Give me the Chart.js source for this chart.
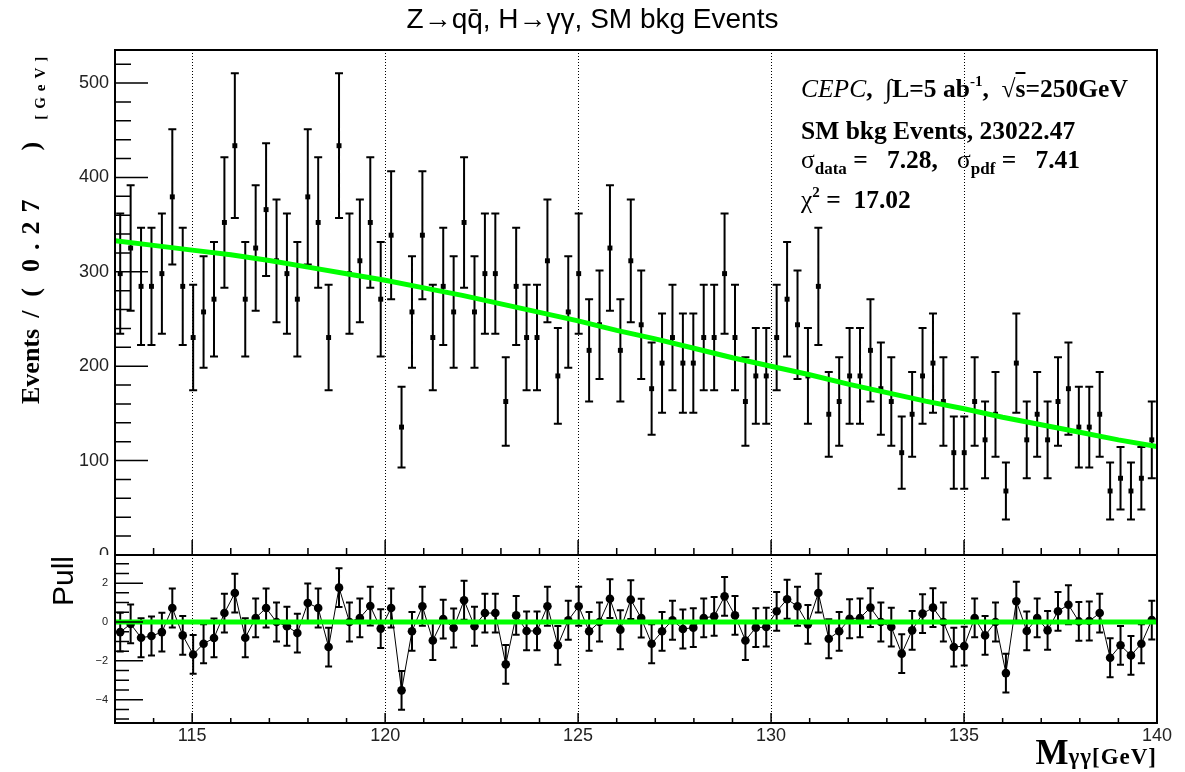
<!DOCTYPE html>
<html lang="en">
<head>
<meta charset="utf-8">
<title>Z→qq̄, H→γγ, SM bkg Events</title>
<script src="https://cdn.jsdelivr.net/npm/chart.js@4.4.1/dist/chart.umd.min.js"></script>
<style>
  html, body { margin: 0; padding: 0; background: #fff; }
  #wrap { position: relative; width: 1185px; height: 772px; overflow: hidden; background: #fff; }
  #wrap canvas { position: absolute; left: 0; }
  .lbl { position: absolute; white-space: pre; line-height: 1; color: #000; }
  .serif { font-family: "Liberation Serif", "Times New Roman", serif; font-weight: bold; }
  .sub { font-size: 17px; position: relative; top: 6px; }
  .sup { font-size: 15px; position: relative; top: -11px; }
  #title { left: 0; top: 5px; width: 1185px; text-align: center; font-family: "Liberation Sans", Arial, sans-serif; font-size: 28px; }
  #yTitle { left: 18px; top: 404px; text-align: left; font-size: 26px; transform-origin: 0 0; transform: rotate(-90deg); }
  #yTitle .num { letter-spacing: 9px; }
  #yTitle .unit { font-size: 15px; letter-spacing: 6px; position: relative; top: 6px; }
  #pullTitle { left: 48px; top: 641px; width: 120px; text-align: center; font-family: "Liberation Sans", Arial, sans-serif; font-size: 30px; transform-origin: 0 0; transform: rotate(-90deg); }
  #xTitle { right: 28px; top: 735px; font-size: 35px; }
  #xTitle .xs { font-size: 23px; letter-spacing: 1px; }
  .stat { left: 801px; font-size: 25.5px; }
</style>
</head>
<body>
<div id="wrap">
  <canvas id="mainChart" width="1185" height="555" style="top:0"></canvas>
  <canvas id="pullChart" width="1185" height="217" style="top:555px"></canvas>

  <div class="lbl" id="title">Z→qq̄, H→γγ, SM bkg Events</div>
  <div class="lbl serif" id="yTitle">Events<span style="margin-left:11px">/</span><span style="margin-left:14px">(</span><span class="num" style="margin-left:16px">0.27</span><span style="margin-left:40px">)</span><span class="unit" style="margin-left:22px">[GeV]</span></div>
  <div class="lbl" id="pullTitle">Pull</div>
  <div class="lbl serif" id="xTitle">M<span class="xs">γγ[GeV]</span></div>

  <div class="lbl serif stat" style="top:76px"><i style="font-weight:normal">CEPC</i>,  ∫L=5 ab<span class="sup">-1</span>,  √<span style="text-decoration:overline">s</span>=250GeV</div>
  <div class="lbl serif stat" style="top:118px">SM bkg Events, 23022.47</div>
  <div class="lbl serif stat" style="top:147px"><span style="font-weight:normal">σ</span><span class="sub">data</span> =   7.28,   <span style="font-weight:normal">σ</span><span class="sub">pdf</span> =   7.41</div>
  <div class="lbl serif stat" style="top:187px"><span style="font-weight:normal">χ</span><span class="sup">2</span> =  17.02</div>
</div>

<script>
// binning of the histogram
const xMin = 113;
const xMax = 140;
const binWidth = 0.27;

// weighted events per bin (100 bins)
const events = [
  298.1, 325.2, 284.6, 284.6, 298.1, 379.4, 284.6, 230.4, 257.5, 271.0,
  352.3, 433.6, 271.0, 325.2, 365.9, 311.7, 298.1, 271.0, 379.4, 352.3,
  230.4, 433.6, 298.1, 311.7, 352.3, 271.0, 338.8, 135.5, 257.5, 338.8,
  230.4, 284.6, 257.5, 352.3, 257.5, 298.1, 298.1, 162.6, 284.6, 230.4,
  230.4, 311.7, 189.7, 257.5, 298.1, 216.8, 243.9, 325.2, 216.8, 311.7,
  243.9, 176.2, 203.3, 230.4, 203.3, 203.3, 230.4, 230.4, 298.1, 230.4,
  162.6, 189.7, 189.7, 230.4, 271.0, 243.9, 189.7, 284.6, 149.1, 162.6,
  189.7, 189.7, 216.8, 176.2, 162.6, 108.4, 149.1, 189.7, 203.3, 162.6,
  108.4, 108.4, 162.6, 122.0, 149.1, 67.8, 203.3, 122.0, 149.1, 122.0,
  162.6, 176.2, 135.5, 135.5, 149.1, 67.8, 81.3, 67.8, 81.3, 122.0
];

// error bar half-lengths
const eventErrors = [
  63.6, 66.4, 62.1, 62.1, 63.6, 71.7, 62.1, 55.9, 59.1, 60.6,
  69.1, 76.7, 60.6, 66.4, 70.4, 65.0, 63.6, 60.6, 71.7, 69.1,
  55.9, 76.7, 63.6, 65.0, 69.1, 60.6, 67.8, 42.8, 59.1, 67.8,
  55.9, 62.1, 59.1, 69.1, 59.1, 63.6, 63.6, 46.9, 62.1, 55.9,
  55.9, 65.0, 50.7, 59.1, 63.6, 54.2, 57.5, 66.4, 54.2, 65.0,
  57.5, 48.9, 52.5, 55.9, 52.5, 52.5, 55.9, 55.9, 63.6, 55.9,
  46.9, 50.7, 50.7, 55.9, 60.6, 57.5, 50.7, 62.1, 44.9, 46.9,
  50.7, 50.7, 54.2, 48.9, 46.9, 38.3, 44.9, 50.7, 52.5, 46.9,
  38.3, 38.3, 46.9, 40.7, 44.9, 30.3, 52.5, 40.7, 44.9, 40.7,
  46.9, 48.9, 42.8, 42.8, 44.9, 30.3, 33.2, 30.3, 33.2, 40.7
];

// pull per bin
const pulls = [
  -0.52, -0.10, -0.81, -0.72, -0.52, 0.72, -0.69, -1.67, -1.12, -0.82,
  0.46, 1.49, -0.81, 0.21, 0.72, 0.00, -0.22, -0.57, 0.98, 0.72,
  -1.29, 1.77, 0.00, 0.21, 0.82, -0.34, 0.72, -3.52, -0.48, 0.81,
  -0.95, 0.15, -0.31, 1.12, -0.22, 0.46, 0.46, -2.18, 0.34, -0.46,
  -0.46, 0.81, -1.20, 0.09, 0.81, -0.48, 0.00, 1.20, -0.40, 1.15,
  0.20, -1.12, -0.48, 0.09, -0.36, -0.29, 0.21, 0.29, 1.32, 0.34,
  -0.95, -0.29, -0.26, 0.55, 1.17, 0.81, -0.12, 1.49, -0.86, -0.48,
  0.17, 0.21, 0.74, 0.00, -0.26, -1.63, -0.43, 0.43, 0.74, 0.00,
  -1.29, -1.24, 0.21, -0.69, 0.00, -2.63, 1.07, -0.46, 0.21, -0.43,
  0.55, 0.89, 0.03, 0.05, 0.46, -1.84, -1.20, -1.72, -1.12, 0.10
];

// background fit curve
const fitMass = [113, 114, 115, 116, 117, 118, 119, 120, 121, 122, 123, 124, 125, 126,
                 127, 128, 129, 130, 131, 132, 133, 134, 135, 136, 137, 138, 139, 140];
const fitEvents = [333, 328, 323, 318, 312, 305, 298, 291, 283, 275, 266, 257, 248, 238,
                   229, 219, 209, 200, 191, 181, 172, 163, 155, 146, 138, 130, 122, 115];

const gridMass = [115, 120, 125, 130, 135];

const binCenters = events.map((v, i) => +(xMin + binWidth * (i + 0.5)).toFixed(3));

// frame, ticks, dotted lines and error bars in ROOT style
const rootFrame = {
    id: 'rootFrame',
    beforeDatasetsDraw(chart, args, opts) {
        const { ctx, chartArea: a, scales: { x, y } } = chart;
        ctx.save();
        ctx.beginPath();
        ctx.rect(a.left, a.top, a.right - a.left, a.bottom - a.top);
        ctx.clip();

        ctx.strokeStyle = '#000';
        ctx.lineWidth = 1;
        ctx.setLineDash([1, 2]);
        gridMass.forEach(m => {
            const px = Math.round(x.getPixelForValue(m)) + 0.5;
            ctx.beginPath();
            ctx.moveTo(px, a.top);
            ctx.lineTo(px, a.bottom);
            ctx.stroke();
        });
        ctx.setLineDash([]);

        const meta = chart.getDatasetMeta(opts.barsDataset);
        const vals = chart.data.datasets[opts.barsDataset].data;
        ctx.lineWidth = opts.barWidth;
        ctx.beginPath();
        vals.forEach((p, i) => {
            const err = opts.errors ? opts.errors[i] : 1;
            const px = meta.data[i].x;
            const top = y.getPixelForValue(p.y + err);
            const bot = y.getPixelForValue(p.y - err);
            ctx.moveTo(px, top);
            ctx.lineTo(px, bot);
            ctx.moveTo(px - opts.cap, top);
            ctx.lineTo(px + opts.cap, top);
            ctx.moveTo(px - opts.cap, bot);
            ctx.lineTo(px + opts.cap, bot);
        });
        ctx.stroke();
        ctx.restore();
    },
    afterDraw(chart, args, opts) {
        const { ctx, chartArea: a, scales: { x, y } } = chart;
        ctx.save();
        ctx.strokeStyle = '#000';
        ctx.lineWidth = 2;
        ctx.strokeRect(a.left, a.top, a.right - a.left, a.bottom - a.top);

        ctx.lineWidth = 1.5;
        drawTicks(ctx, a, x, 1, 5, opts.xTicks, true);
        drawTicks(ctx, a, y, opts.yMinor, opts.yMajor, opts.yTicks, false);
        ctx.restore();
    }
};

function drawTicks(ctx, a, scale, minor, major, lens, horizontal) {
    const lo = Math.ceil(scale.min / minor - 1e-9);
    const hi = Math.floor(scale.max / minor + 1e-9);
    const per = Math.round(major / minor);
    ctx.beginPath();
    for (let k = lo; k <= hi; k++) {
        const len = (k % per === 0) ? lens[0] : lens[1];
        const p = scale.getPixelForValue(k * minor);
        if (horizontal) {
            ctx.moveTo(p, a.bottom);
            ctx.lineTo(p, a.bottom - len);
        } else {
            ctx.moveTo(a.left, p);
            ctx.lineTo(a.left + len, p);
        }
    }
    ctx.stroke();
}

function fixYAxis(s) {
    s.width = 115;
    s.paddingTop = 0;
    s.paddingBottom = 0;
}

const tickFont = { family: '"Liberation Sans", Arial, sans-serif', size: 18 };

new Chart(document.getElementById('mainChart'), {
    type: 'scatter',
    data: {
        datasets: [{
            label: 'fit',
            data: fitMass.map((m, i) => ({ x: m, y: fitEvents[i] })),
            showLine: true,
            borderColor: '#00ff00',
            borderWidth: 5,
            pointRadius: 0,
            order: 0
        }, {
            label: 'SM bkg Events',
            data: binCenters.map((m, i) => ({ x: m, y: events[i] })),
            pointStyle: 'rect',
            pointRadius: 3.5,
            backgroundColor: '#000',
            borderColor: '#000',
            borderWidth: 0,
            order: 1
        }]
    },
    options: {
        responsive: false,
        animation: false,
        events: [],
        layout: { autoPadding: false, padding: { left: 0, top: 50, right: 28, bottom: 0 } },
        plugins: {
            legend: { display: false },
            tooltip: { enabled: false },
            rootFrame: {
                barsDataset: 1,
                errors: eventErrors,
                barWidth: 2,
                cap: 4,
                xTicks: [15, 7],
                yTicks: [33, 16],
                yMinor: 20,
                yMajor: 100
            }
        },
        scales: {
            x: { type: 'linear', min: xMin, max: xMax, display: false },
            y: {
                min: 0,
                max: 535,
                grid: { display: false, drawTicks: false },
                border: { display: false },
                ticks: { stepSize: 100, includeBounds: false, padding: 6, color: '#222', font: tickFont },
                afterFit: fixYAxis
            }
        }
    },
    plugins: [rootFrame]
});

new Chart(document.getElementById('pullChart'), {
    type: 'scatter',
    data: {
        datasets: [{
            label: 'zero',
            data: [{ x: xMin, y: 0 }, { x: xMax, y: 0 }],
            showLine: true,
            borderColor: '#00ff00',
            borderWidth: 5,
            pointRadius: 0,
            order: 0
        }, {
            label: 'Pull',
            data: binCenters.map((m, i) => ({ x: m, y: pulls[i] })),
            showLine: true,
            borderColor: '#000',
            borderWidth: 1,
            pointRadius: 4.3,
            pointBackgroundColor: '#000',
            pointBorderWidth: 0,
            order: 1
        }]
    },
    options: {
        responsive: false,
        animation: false,
        events: [],
        layout: { autoPadding: false, padding: { left: 0, top: 0, right: 28, bottom: 0 } },
        plugins: {
            legend: { display: false },
            tooltip: { enabled: false },
            rootFrame: {
                barsDataset: 1,
                errors: null,
                barWidth: 2,
                cap: 3.5,
                xTicks: [10, 5],
                yTicks: [28, 14],
                yMinor: 0.5,
                yMajor: 2
            }
        },
        scales: {
            x: {
                type: 'linear',
                min: xMin,
                max: xMax,
                grid: { display: false, drawTicks: false },
                border: { display: false },
                ticks: { stepSize: 5, includeBounds: false, padding: 2, maxRotation: 0, autoSkip: false, color: '#222', font: tickFont },
                afterFit: s => { s.height = 49; s.paddingLeft = 0; s.paddingRight = 0; }
            },
            y: {
                min: -5.2,
                max: 3.45,
                grid: { display: false, drawTicks: false },
                border: { display: false },
                ticks: {
                    stepSize: 2,
                    includeBounds: false,
                    padding: 7,
                    color: '#222',
                    font: { family: '"Liberation Sans", Arial, sans-serif', size: 11 },
                    callback: v => v < 0 ? '\u2212' + Math.abs(v) : String(v)
                },
                afterFit: fixYAxis
            }
        }
    },
    plugins: [rootFrame]
});
</script>
</body>
</html>
